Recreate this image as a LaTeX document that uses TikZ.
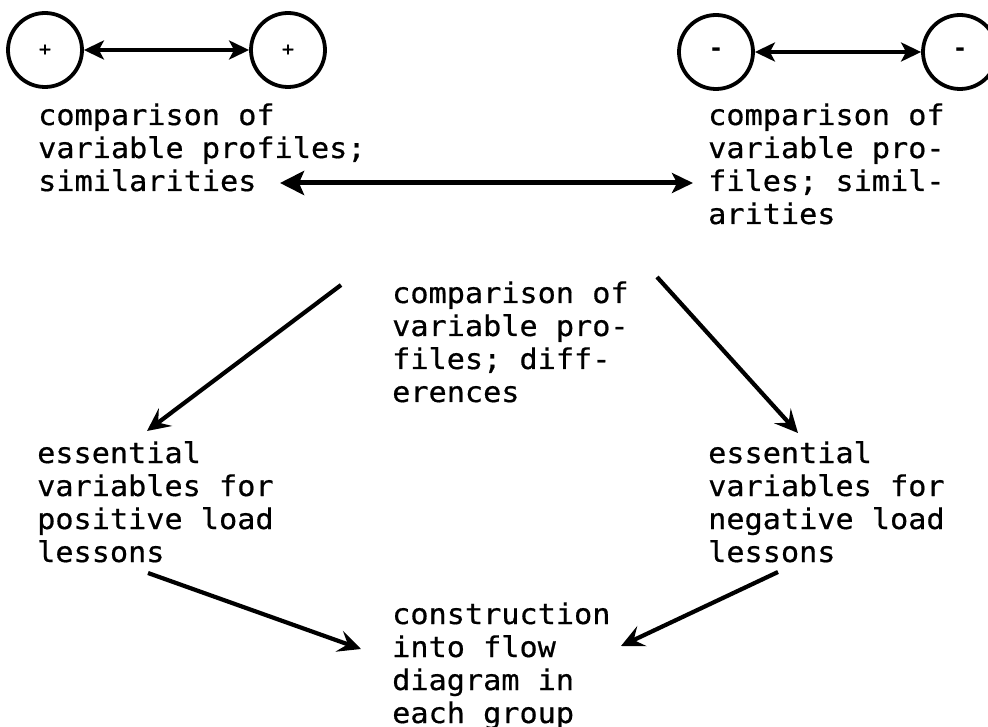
\documentclass[tikz,border=0pt]{standalone}
\usepackage{fontspec}
\newfontfamily\typewriter[FakeStretch=1.06,FakeBold=0.6]{DejaVu Sans Mono}
\newfontfamily\signfont{DejaVu Sans Mono Bold}
\usetikzlibrary{arrows.meta}
% stack of left-aligned lines; the box's baseline is that of the first line
\newcommand\textlines[1]{\vtop{\halign{##\hfil\cr#1\crcr}}}

\begin{document}
\begin{tikzpicture}[x=1pt,y=-1pt,
  ring/.style={circle,draw,line width=3.8pt,minimum size=74pt,inner sep=0pt},
  plussign/.style={font=\typewriter\fontsize{19}{19}\selectfont},
  minussign/.style={font=\signfont\fontsize{24}{24}\selectfont},
  txt/.style={anchor=base west,inner sep=0pt,
    font=\typewriter\fontsize{28.5}{33}\selectfont},
  pair/.style={line width=3.8pt,
    {Stealth[length=20pt,width=19pt,inset=5pt]}-{Stealth[length=20pt,width=19pt,inset=5pt]}},
  simlink/.style={line width=5pt,
    {Stealth[length=24pt,width=24pt,inset=5pt]}-{Stealth[length=21pt,width=20pt,inset=5pt]}},
  flow/.style={line width=4.2pt,-{Stealth[length=23pt,width=22pt,inset=9pt]}}]
\useasboundingbox (0,0) rectangle (988,727);

% profile groups
\node[ring,plussign] (p1) at (45,50) {+};
\node[ring,plussign] (p2) at (288,50) {+};
\node[ring,minussign] (n1) at (716,52) {-};
\node[ring,minussign] (n2) at (960,52) {-};

% text blocks
\node[txt] (simL) at (38,125) {\textlines{comparison of\cr variable profiles;\cr similarities}};
\node[txt] (simR) at (708,125) {\textlines{comparison of\cr variable pro-\cr files; simil-\cr arities}};
\node[txt] (diff) at (392,303) {\textlines{comparison of\cr variable pro-\cr files; diff-\cr erences}};
\node[txt] (essL) at (37,463) {\textlines{essential\cr variables for\cr positive load\cr lessons}};
\node[txt] (essR) at (708,463) {\textlines{essential\cr variables for\cr negative load\cr lessons}};
\node[txt] (cons) at (392,624) {\textlines{construction\cr into flow\cr diagram in\cr each group}};

% connector end points
\coordinate (simA) at (280,183);
\coordinate (simB) at (693,183);
\coordinate (dA) at (341,285);
\coordinate (dB) at (147,431);
\coordinate (dC) at (657,277);
\coordinate (dD) at (798,433);
\coordinate (eA) at (148,573);
\coordinate (eB) at (361,649);
\coordinate (eC) at (778,572);
\coordinate (eD) at (621,646);

% connectors
\draw[pair] (p1) -- (p2);
\draw[pair] (n1) -- (n2);
\draw[simlink] (simA) -- (simB);
\draw[flow] (dA) -- (dB);
\draw[flow] (dC) -- (dD);
\draw[flow] (eA) -- (eB);
\draw[flow] (eC) -- (eD);
\end{tikzpicture}
\end{document}
